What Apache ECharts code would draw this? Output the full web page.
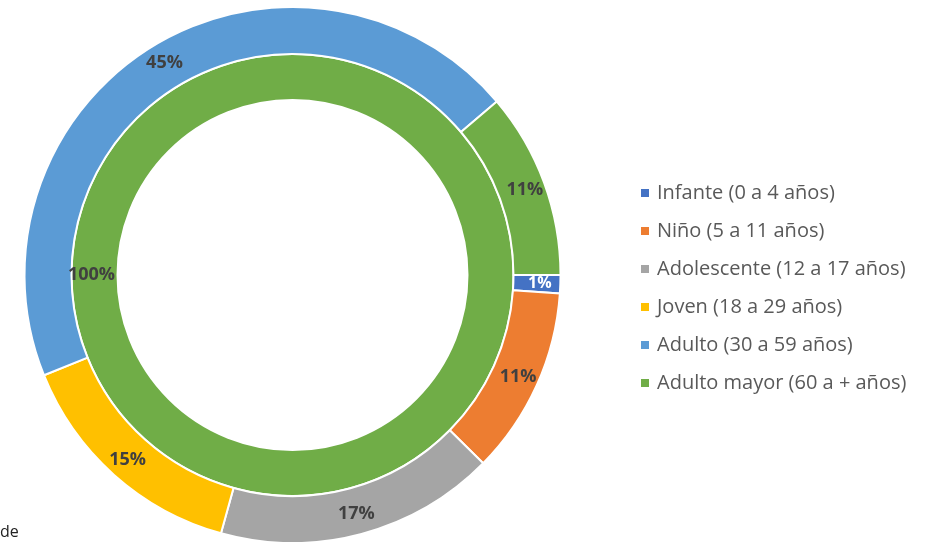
<!DOCTYPE html>
<html>
<head>
<meta charset="utf-8">
<script src="https://cdn.jsdelivr.net/npm/echarts@6/dist/echarts.min.js"></script>
<style>
  html, body { margin: 0; padding: 0; background: #fff; }
  #chart { width: 927px; height: 542px; }
</style>
</head>
<body>
<div id="chart"></div>
<script>
  // categorias y valores (porcentaje)
  var categories = ['Infante (0 a 4 años)', 'Niño (5 a 11 años)', 'Adolescente (12 a 17 años)',
    'Joven (18 a 29 años)', 'Adulto (30 a 59 años)', 'Adulto mayor (60 a + años)'];
  var outerValues = [1.1, 11.3, 16.9, 14.6, 44.9, 11.2];
  var innerValues = [0, 0, 0, 0, 0, 100];
  var colors = ['#4472C4', '#ED7D31', '#A5A5A5', '#FFC000', '#5B9BD5', '#70AD47'];

  var myChart = echarts.init(document.getElementById('chart'));

  function buildData(values) {
    var out = [];
    for (var i = 0; i < categories.length; i++) {
      out.push({ name: categories[i], value: values[i] });
    }
    return out;
  }

  var labelStyle = {
    show: true,
    position: 'inside',
    fontFamily: '"Open Sans", sans-serif',
    fontWeight: 'bold',
    fontSize: 18,
    color: '#404040',
    formatter: function (params) {
      if (!params.value) return '';
      return Math.round(params.percent) + '%';
    }
  };

  var outerData = buildData(outerValues);
  // la porcion pequeña lleva la etiqueta en blanco
  outerData[0].label = { color: '#fff', fontSize: 16 };

  var option = {
    animation: false,
    color: colors,
    legend: {
      orient: 'vertical',
      left: 634,
      top: 178,
      icon: 'rect',
      itemWidth: 10,
      itemHeight: 10,
      itemGap: 18,
      selectedMode: false,
      textStyle: {
        fontFamily: '"Open Sans", sans-serif',
        fontSize: 20,
        color: '#595959',
        padding: [0, 0, 0, 2]
      },
      data: categories
    },
    graphic: [{
      type: 'text',
      left: 0,
      top: 524,
      style: { text: 'de', fontSize: 16, fill: '#222', fontFamily: '"Open Sans", sans-serif' }
    }],
    series: [
      {
        name: 'inner',
        type: 'pie',
        center: [292.5, 275],
        radius: [175, 221],
        startAngle: 0,
        clockwise: true,
        avoidLabelOverlap: false,
        stillShowZeroSum: true,
        itemStyle: { borderColor: '#fff', borderWidth: 2 },
        label: labelStyle,
        labelLine: { show: false },
        emphasis: { disabled: true },
        data: buildData(innerValues)
      },
      {
        name: 'outer',
        type: 'pie',
        center: [292.5, 275],
        radius: [221, 268],
        startAngle: 0,
        clockwise: true,
        avoidLabelOverlap: false,
        itemStyle: { borderColor: '#fff', borderWidth: 2 },
        label: labelStyle,
        labelLine: { show: false },
        emphasis: { disabled: true },
        data: outerData
      }
    ]
  };
  myChart.setOption(option);
</script>
</body>
</html>
